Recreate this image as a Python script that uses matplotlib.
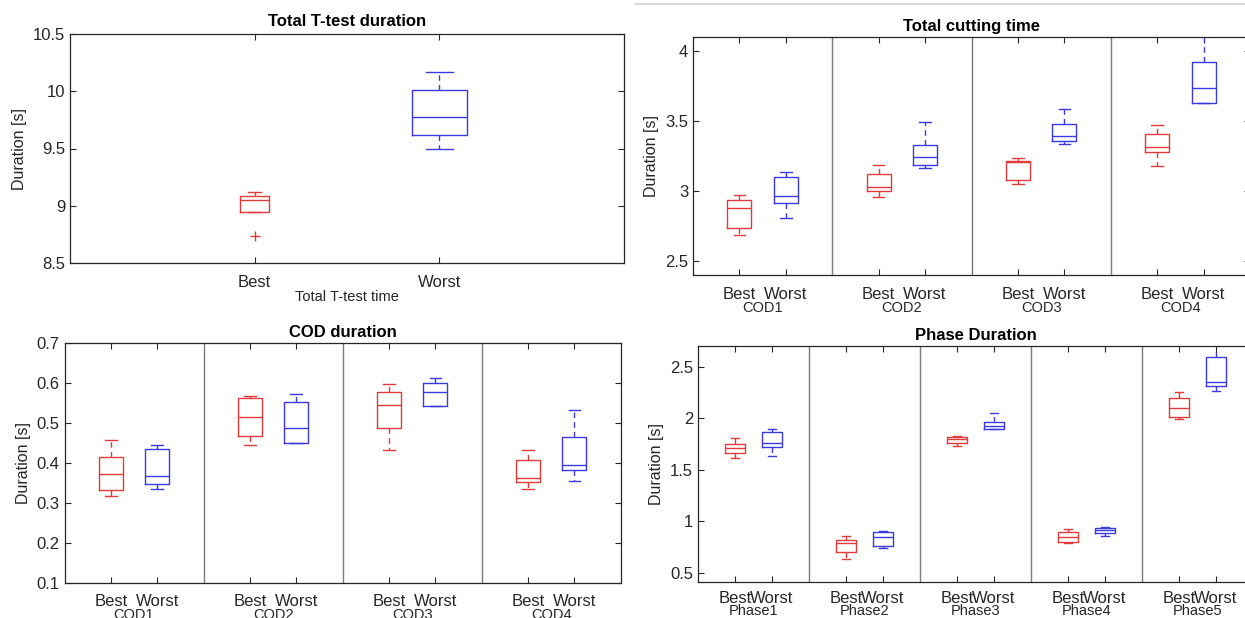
import matplotlib
matplotlib.use("Agg")
import matplotlib.pyplot as plt
from matplotlib.lines import Line2D

plt.rcParams['font.family'] = ['Liberation Sans', 'DejaVu Sans']

RED = '#e03a3a'
BLUE = '#3a3ae0'
AXC = '#262626'

# box summaries: [lower whisker, q1, median, q3, upper whisker]
ttest_labels = ['Best', 'Worst']
ttest_best = [8.948, 8.948, 9.053, 9.082, 9.117]
ttest_best_out = [8.739]
ttest_worst = [9.493, 9.621, 9.772, 10.008, 10.165]

cut_groups = ['COD1', 'COD2', 'COD3', 'COD4']
cut_best = [[2.687, 2.733, 2.876, 2.933, 2.969],
            [2.955, 3.000, 3.031, 3.119, 3.189],
            [3.050, 3.079, 3.208, 3.215, 3.239],
            [3.179, 3.277, 3.315, 3.406, 3.473]]
cut_worst = [[2.804, 2.916, 2.967, 3.100, 3.136],
             [3.167, 3.184, 3.243, 3.332, 3.492],
             [3.334, 3.360, 3.394, 3.482, 3.585],
             [3.628, 3.632, 3.735, 3.921, 4.200]]

cod_groups = ['COD1', 'COD2', 'COD3', 'COD4']
cod_best = [[0.317, 0.331, 0.371, 0.415, 0.457],
            [0.444, 0.468, 0.515, 0.562, 0.567],
            [0.432, 0.487, 0.545, 0.578, 0.597],
            [0.335, 0.351, 0.362, 0.408, 0.431]]
cod_worst = [[0.335, 0.347, 0.367, 0.435, 0.445],
             [0.450, 0.450, 0.486, 0.552, 0.572],
             [0.541, 0.541, 0.576, 0.600, 0.612],
             [0.355, 0.381, 0.395, 0.464, 0.532]]

phase_groups = ['Phase1', 'Phase2', 'Phase3', 'Phase4', 'Phase5']
phase_best = [[1.611, 1.667, 1.716, 1.746, 1.808],
              [0.634, 0.700, 0.792, 0.815, 0.857],
              [1.730, 1.762, 1.798, 1.818, 1.825],
              [0.785, 0.795, 0.844, 0.897, 0.926],
              [1.989, 2.018, 2.103, 2.195, 2.257]]
phase_worst = [[1.634, 1.720, 1.762, 1.864, 1.900],
               [0.743, 0.759, 0.841, 0.897, 0.903],
               [1.893, 1.900, 1.923, 1.966, 2.054],
               [0.857, 0.887, 0.910, 0.933, 0.939],
               [2.267, 2.316, 2.356, 2.600, 2.750]]


def to_stats(vals, fliers=()):
    lo, q1, med, q3, hi = vals
    return dict(whislo=lo, q1=q1, med=med, q3=q3, whishi=hi, fliers=list(fliers))


def draw_boxes(ax, stats, positions, color, width, capwidth):
    lw = 1.0
    ax.bxp(stats, positions=positions, widths=width, capwidths=capwidth,
           manage_ticks=False, showfliers=True,
           boxprops=dict(color=color, linewidth=lw),
           medianprops=dict(color=color, linewidth=lw),
           whiskerprops=dict(color=color, linewidth=lw, linestyle=(0, (4, 3))),
           capprops=dict(color=color, linewidth=lw),
           flierprops=dict(marker='+', markeredgecolor=color, markersize=7,
                           markeredgewidth=1.0, linestyle='none'))


def style_axes(ax, ylim, yticks, xlim, xpos, xlabels, xpad=8.5):
    ax.set_xlim(*xlim)
    ax.set_ylim(*ylim)
    ax.set_yticks(yticks)
    ax.set_yticklabels([('%g' % t) for t in yticks])
    ax.set_xticks(xpos)
    ax.set_xticklabels(xlabels)
    ax.tick_params(direction='in', top=True, right=True, length=4, width=0.8,
                   colors=AXC, labelsize=12)
    ax.tick_params(axis='x', pad=xpad)
    ax.tick_params(axis='y', pad=3.5)
    for sp in ax.spines.values():
        sp.set_color(AXC)
        sp.set_linewidth(0.9)
    ax.set_ylabel('Duration [s]', fontsize=11.5, color=AXC, labelpad=4)


def grouped_panel(ax, title, groups, best, worst, ylim, yticks, width, capwidth,
                  xpad=8.5, group_off=33.5):
    n = len(groups)
    bpos = [3 * i + 1 for i in range(n)]
    wpos = [3 * i + 2 for i in range(n)]
    draw_boxes(ax, [to_stats(v) for v in best], bpos, RED, width, capwidth)
    draw_boxes(ax, [to_stats(v) for v in worst], wpos, BLUE, width, capwidth)
    for i in range(1, n):
        ax.axvline(3 * i, color='#7a7a7a', linewidth=1.0)
    xpos = sorted(bpos + wpos)
    labels = ['Best', 'Worst'] * n
    style_axes(ax, ylim, yticks, (0, 3 * n), xpos, labels, xpad)
    for i, g in enumerate(groups):
        ax.annotate(g, xy=(3 * i + 1.5, 0), xycoords=('data', 'axes fraction'),
                    xytext=(0, -group_off / 1.389), textcoords='offset points',
                    ha='center', va='center', fontsize=10.5, color=AXC,
                    annotation_clip=False)
    ax.set_title(title, fontsize=12, fontweight='bold', pad=4)


fig = plt.figure(figsize=(12.45, 6.18), dpi=100)
W, H = 1245.0, 618.0


def add_ax(x0, y0, x1, y1):
    return fig.add_axes([x0 / W, 1 - y1 / H, (x1 - x0) / W, (y1 - y0) / H])


# top left
ax1 = add_ax(70, 34, 624, 263)
draw_boxes(ax1, [to_stats(ttest_best, ttest_best_out)], [1], RED, 0.16, 0.07)
draw_boxes(ax1, [to_stats(ttest_worst)], [2], BLUE, 0.30, 0.145)
style_axes(ax1, (8.5, 10.5), [8.5, 9, 9.5, 10, 10.5], (0, 3), [1, 2], ttest_labels)
ax1.set_xlabel('Total T-test time', fontsize=10.5, color=AXC, labelpad=0)
ax1.set_title('Total T-test duration', fontsize=12, fontweight='bold', pad=6)

# top right
ax2 = add_ax(693, 37, 1250, 275)
grouped_panel(ax2, 'Total cutting time', cut_groups, cut_best, cut_worst,
              (2.4, 4.1), [2.5, 3, 3.5, 4], 0.52, 0.25)

# bottom left
ax3 = add_ax(64.5, 342.7, 620.7, 583)
grouped_panel(ax3, 'COD duration', cod_groups, cod_best, cod_worst,
              (0.1, 0.7), [0.1, 0.2, 0.3, 0.4, 0.5, 0.6, 0.7], 0.52, 0.25,
              xpad=8.0, group_off=32)

# bottom right
ax4 = add_ax(698, 346, 1253, 582)
grouped_panel(ax4, 'Phase Duration', phase_groups, phase_best, phase_worst,
              (0.408, 2.704), [0.5, 1, 1.5, 2, 2.5], 0.54, 0.24,
              xpad=6.5, group_off=29.5)

# thin separator at the top of the right column
fig.add_artist(Line2D([636 / W, 1.0], [1 - 4 / H, 1 - 4 / H], color='#d8d8d8',
                      linewidth=1.5, transform=fig.transFigure))

fig.savefig('out.png', dpi=100, facecolor='white')
